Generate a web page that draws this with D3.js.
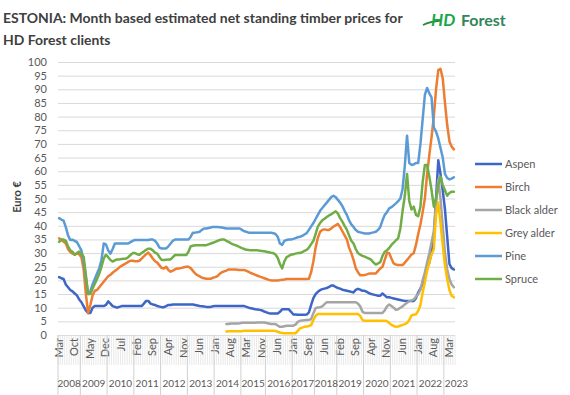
<!DOCTYPE html>
<html>
<head>
<meta charset="utf-8">
<script src="https://cdn.jsdelivr.net/npm/d3@7"></script>
<style>
  body { margin: 0; background: #fff; }
  text { font-family: Lato, "Open Sans", sans-serif; }
</style>
</head>
<body>
<script>

// ---- data ----
var monthNames = ["Jan","Feb","Mar","Apr","May","Jun","Jul","Aug","Sep","Oct","Nov","Dec"];
// months that are not in the source table
var skipped = ["2015-8","2017-4","2017-12","2018-2","2018-10"];

var categories = [];
for (var yr = 2008; yr <= 2023; yr++) {
	for (var mo = 1; mo <= 12; mo++) {
		if (yr === 2008 && mo < 3) continue;
		if (yr === 2023 && mo > 5) continue;
		if (skipped.indexOf(yr + "-" + mo) >= 0) continue;
		categories.push({ year: yr, month: mo });
	}
}

var seriesNames = ["Aspen", "Birch", "Black alder", "Grey alder", "Pine", "Spruce"];
var seriesColors = ["#3d66c6", "#ed7d31", "#a5a5a5", "#ffc000", "#5b9bd5", "#70ad47"];

var aspen = [
	21.2, 20.8, 20.5, 18.5, 17.5, 16.5, 16, 15.2, 14.5, 13,                 // 2008
	12, 10.5, 9, 8.1, 8.1, 10, 10.6, 10.6, 10.6, 10.6, 10.6, 11,            // 2009
	12.3, 11.5, 10.6, 10.3, 10, 10.3, 10.6, 10.6, 10.6, 10.6, 10.6, 10.6,   // 2010
	10.6, 10.6, 10.6, 10.6, 11.5, 12.5, 12.5, 11.5, 11.2, 11, 10.6, 10.4,   // 2011
	10.2, 10.2, 10.6, 11, 11, 11.2, 11.2, 11.2, 11.2, 11.2, 11.2, 11.2,     // 2012
	11.2, 11.2, 11.2, 11, 10.8, 10.6, 10.5, 10.4, 10.3, 10.3, 10.3, 10.5,   // 2013
	10.6, 10.6, 10.6, 10.6, 10.6, 10.6, 10.6, 10.6, 10.6, 10.6, 10.6, 10.6, // 2014
	10.6, 10.6, 10.3, 10, 9.8, 9.6, 9.4, 9.3, 9.2, 9, 8.6,                  // 2015
	8.3, 8, 7.9, 7.9, 7.9, 7.9, 8.5, 9.4, 9.4, 9.4, 9.4, 8.5,               // 2016
	7.5, 7.5, 7.4, 7.4, 7.4, 7.4, 7.5, 8.3, 11, 13.5,                       // 2017
	15, 15.8, 16.4, 16.8, 17, 17.2, 17.6, 18.1, 18.1, 17.6,                 // 2018
	17.2, 17, 16.6, 16.4, 16.2, 16, 15.8, 15.6, 16.5, 16.9, 16.6, 16.2,     // 2019
	16.2, 15.8, 15.3, 15, 14.8, 14.6, 14.4, 14.4, 15.2, 14.5, 13.8, 13.8,   // 2020
	13.6, 13.4, 13.2, 13, 12.8, 12.6, 12.5, 12.5, 12.5, 12.5, 12.5, 13.5,   // 2021
	15.6, 17, 18.8, 22, 25, 26.5, 30.5, 35.5, 50, 64, 59, 53,               // 2022
	46, 36, 26, 24.5, 24                                                    // 2023
];

var birch = [
	35.4, 34.8, 34.2, 33.5, 31.5, 30.4, 29.8, 29.4, 29.8, 29.6,
	28.5, 24, 15, 8, 11, 14.5, 16.2, 16.5, 17.5, 18.5, 19.5, 20.5,
	21.5, 22, 22.8, 23.5, 24, 24.8, 25.3, 25.8, 26.3, 26.8, 27.2, 27.2,
	27, 27, 27.2, 28, 28.8, 29.6, 30.2, 29.2, 28, 27, 26.5, 25.5,
	24.5, 24.4, 25, 23.8, 23.2, 23.6, 24, 24.4, 24.4, 24.6, 24.8, 25,
	25, 24.5, 23.5, 22.5, 21.9, 21.5, 21, 20.8, 20.6, 20.6, 20.6, 21,
	21.2, 21.6, 22.4, 23, 23.3, 23.6, 24, 24, 24, 24, 23.9, 23.8,
	23.8, 23.8, 23.5, 23.1, 22.7, 22.4, 22, 21.7, 21.4, 21.1, 20.8,
	20.5, 20.2, 20, 20, 20, 20, 20.1, 20.2, 20.3, 20.5, 20.5, 20.5,
	20.5, 20.5, 20.5, 20.5, 20.5, 20.5, 20.5, 20.6, 23, 27,
	32, 35.5, 37.8, 38.5, 38.7, 38.5, 38.5, 39, 39.7, 40.2,
	40.7, 39.5, 38, 36.5, 35, 32, 30, 27.5, 24.5, 23, 21.9, 21.9,
	22, 22.2, 22.5, 22.5, 22.5, 22.5, 23.5, 24.4, 25, 27.5, 30, 30,
	28, 26.2, 25.8, 25.6, 25.6, 25.6, 26.5, 27.5, 28.5, 29.5, 30, 33,
	37, 40.5, 45, 50, 59, 66, 72.6, 80, 90, 97, 97.5, 94,
	85, 77, 71, 69, 68
];

var blackAlder = [
	null, null, null, null, null, null, null, null, null, null,
	null, null, null, null, null, null, null, null, null, null, null, null,
	null, null, null, null, null, null, null, null, null, null, null, null,
	null, null, null, null, null, null, null, null, null, null, null, null,
	null, null, null, null, null, null, null, null, null, null, null, null,
	null, null, null, null, null, null, null, null, null, null, null, null,
	null, null, null, null, null, 4, 4, 4.2, 4.2, 4.2, 4.2, 4.3,
	4.5, 4.5, 4.5, 4.5, 4.5, 4.5, 4.5, 4.6, 4.6, 4.6, 4.6,
	4.4, 4.2, 4, 4, 4, 3.5, 3, 3, 3.2, 3.4, 3.4, 3.4,
	3.4, 3.8, 4.8, 5.2, 5.3, 5.4, 5.5, 5.6, 5.8, 8,
	9.8, 10.1, 10.2, 10.5, 11.3, 12, 12, 12, 12, 12,
	12, 12, 12, 12, 12, 12, 12, 12, 12, 11.5, 10.5, 8.5,
	8.1, 8.1, 8.1, 8.1, 8.1, 8.1, 8.1, 8.1, 8.1, 9, 10.5, 11.2,
	10.6, 10, 9.2, 9.4, 10, 10.5, 11.2, 11.8, 12.4, 12.7, 13, 14,
	15, 16.5, 20, 23, 26.5, 30, 34, 38, 48, 57, 50, 40,
	30, 24, 20.5, 18.5, 17.5
];

var greyAlder = [
	null, null, null, null, null, null, null, null, null, null,
	null, null, null, null, null, null, null, null, null, null, null, null,
	null, null, null, null, null, null, null, null, null, null, null, null,
	null, null, null, null, null, null, null, null, null, null, null, null,
	null, null, null, null, null, null, null, null, null, null, null, null,
	null, null, null, null, null, null, null, null, null, null, null, null,
	null, null, null, null, null, 1.3, 1.4, 1.4, 1.4, 1.4, 1.4, 1.4,
	1.4, 1.6, 1.6, 1.6, 1.6, 1.6, 1.6, 1.6, 1.6, 1.6, 1.6,
	1.6, 1.6, 1.6, 1.6, 1.5, 1.2, 0.9, 0.7, 0.6, 0.6, 0.6, 0.6,
	0.6, 0.6, 1.5, 2.4, 2.7, 3, 3.1, 3.3, 3.6, 5.5,
	7, 7.7, 7.7, 7.7, 7.7, 7.7, 7.7, 7.7, 7.7, 7.7,
	7.7, 7.7, 7.7, 7.7, 7.7, 7.7, 7.7, 7.7, 7.7, 7.7, 7, 5.5,
	5.2, 5.2, 5.2, 5.2, 5.2, 5.2, 5.2, 5.2, 5.2, 5.2, 5.1, 4.4,
	3.7, 3.3, 3, 3.1, 3.4, 3.7, 4, 4.4, 5.5, 7.2, 7.4, 7.6,
	8.8, 11, 15.5, 19.5, 23.5, 26.5, 29.5, 31.5, 44, 48.5, 41, 33,
	25.5, 20.5, 16.5, 14.4, 13.8
];

var pine = [
	42.8, 42.3, 41.9, 39.5, 36.5, 34.8, 34.9, 34.5, 34, 32.5,
	31, 27, 21, 15, 16, 18.5, 20.5, 22.5, 24.5, 27.5, 33.5, 33.2,
	31, 29.8, 31.5, 33.5, 33.5, 33.5, 33.5, 33.5, 33.5, 33.5, 34, 34.5,
	34.8, 34.8, 34.8, 34.8, 34.8, 34.8, 34.8, 35, 35, 34.5, 33.5, 32,
	31.7, 31.7, 31.7, 32.5, 33.5, 34.5, 35, 35, 35, 35, 35, 35,
	35, 36, 37.5, 37.5, 37.6, 37.8, 38.5, 39, 39, 39.2, 39.4, 39.6,
	39.6, 39.6, 39.5, 39.4, 39.2, 39, 39, 39, 39, 39, 39, 39,
	38.5, 38, 37.8, 37.5, 37.5, 37.5, 37.5, 37.5, 37.5, 37.5, 37.5,
	37.5, 37.5, 37.5, 37.3, 37, 36, 33.5, 33, 34.5, 34.8, 35, 35,
	35.2, 35.5, 35.8, 36, 36.3, 36.8, 37.3, 38.5, 39.8, 41,
	42.5, 44, 45.5, 46.5, 47.5, 48.5, 49.5, 50.5, 51, 50.5,
	49.5, 48.5, 47.2, 45.5, 44, 42, 40.5, 39.6, 38.5, 37.8, 37.6, 37.4,
	37.2, 37.2, 37.2, 37.4, 37.6, 37.8, 38.5, 39.6, 42, 44, 45, 46.4,
	46.8, 47.5, 48.2, 49, 50, 53.5, 62, 73, 63, 62.3, 62.5, 63,
	63, 70, 79, 88, 90.5, 88.5, 87, 76, 74.5, 72, 68.5, 65,
	59, 57.5, 57, 57.3, 57.8
];

var spruce = [
	34.1, 35, 35, 34.5, 32.5, 31, 30.5, 29.4, 30, 30.6,
	29.5, 28.7, 22, 15, 15, 17, 18.8, 20.5, 22.5, 25, 28, 29.4,
	28.5, 27.5, 26.9, 27.3, 27.7, 27.7, 27.8, 27.9, 28, 28.5, 29.3, 30,
	30, 29.6, 29.4, 30, 30.6, 31.2, 31.6, 31.6, 31, 30.2, 29.8, 28.5,
	27.5, 27.5, 27.6, 27.7, 27.7, 28.5, 29.3, 29.3, 29.3, 29.3, 29.3, 29.3,
	30.5, 32.5, 32.7, 32.9, 32.9, 32.9, 32.9, 32.9, 32.9, 33.2, 33.5, 33.8,
	34.1, 34.5, 34.8, 35, 35, 34.5, 34.1, 33.6, 33.2, 32.9, 32.6, 32.2,
	31.8, 31.5, 31.2, 31.1, 31, 31, 31, 31, 30.9, 30.8, 30.7,
	30.5, 30.3, 30.1, 30, 29.5, 28.3, 26, 24.4, 27, 28.5, 29, 29.4,
	29.6, 29.8, 30, 30, 30.4, 30.8, 31.2, 32, 33.3, 34.5,
	37, 39.7, 41, 42, 42.6, 43.2, 43.8, 44.2, 44.8, 45.3,
	44.5, 42.8, 41.5, 40, 38.6, 36.5, 34.5, 33.5, 31.5, 30, 29.4, 29,
	28.7, 28.3, 28, 27.5, 26.5, 25.8, 26.2, 26.7, 29, 30.5, 31, 31.9,
	33, 33.8, 34.7, 35.4, 39, 45.5, 51, 59, 49, 46, 47, 44,
	43.5, 47, 56, 62.3, 62.3, 58, 53, 47, 50, 55, 58, 55,
	53, 51, 52, 52.5, 52.5
];

var seriesValues = [aspen, birch, blackAlder, greyAlder, pine, spruce];
var yTicks = d3.range(0, 101, 5);

// ---- layout ----
var width = 570, height = 395,
	plotLeft = 58, plotRight = 455, plotTop = 62, plotBottom = 335;

var svg = d3.select("body").append("svg")
	.attr("width", width)
	.attr("height", height);

var x = d3.scaleBand()
	.domain(d3.range(categories.length))
	.range([plotLeft, plotRight]);
function xc(i) { return x(i) + x.bandwidth() / 2; }

var y = d3.scaleLinear()
	.domain([0, 100])
	.range([plotBottom, plotTop]);

// 1. Title and logo
var title = svg.append("g").attr("fill", "#404040").attr("font-weight", "bold");
var t1 = title.append("text").attr("x", 3).attr("y", 23).attr("font-size", 15)
	.text("ESTONIA: Month based estimated net standing timber prices for");
var fit = 15 * 400 / t1.node().getComputedTextLength();
t1.attr("font-size", fit);
title.append("text").attr("x", 3).attr("y", 45).attr("font-size", fit)
	.text("HD Forest clients");

var logo = svg.append("g");
logo.append("path")
	.attr("d", "M423,25 Q430,21.5 441,20.5")
	.attr("fill", "none")
	.attr("stroke", "#1f8a3e")
	.attr("stroke-width", 1.8);
logo.append("text").attr("x", 431).attr("y", 26)
	.attr("font-size", 17).attr("font-weight", "bold").attr("font-style", "italic")
	.attr("fill", "#1ea64a").text("HD");
logo.append("text").attr("x", 461).attr("y", 26)
	.attr("font-size", 16).attr("font-weight", "bold")
	.attr("fill", "#33855a").text("Forest");

// 2. Grid and y axis
svg.append("g")
	.attr("transform", "translate(" + plotLeft + ",0)")
	.call(d3.axisLeft(y).tickValues(yTicks).tickSize(-(plotRight - plotLeft)).tickFormat(""))
	.call(function(g) {
		g.select(".domain").remove();
		g.selectAll("line").attr("stroke", "#d9d9d9");
	});

svg.append("g")
	.attr("transform", "translate(" + plotLeft + ",0)")
	.call(d3.axisLeft(y).tickValues(yTicks).tickSize(0).tickPadding(11))
	.call(function(g) {
		g.select(".domain").remove();
		g.selectAll("text").attr("fill", "#595959").attr("font-size", 11)
			.attr("font-family", "Lato, sans-serif");
	});

svg.append("text")
	.attr("transform", "translate(21,197) rotate(-90)")
	.attr("text-anchor", "middle")
	.attr("font-size", 11)
	.attr("font-weight", "bold")
	.attr("fill", "#404040")
	.text("Euro €");

// 3. Category axis: month row and year row
var xAxis = svg.append("g");
xAxis.selectAll("line.cat")
	.data(d3.range(categories.length + 1))
	.enter().append("line")
	.attr("x1", function(i) { return plotLeft + i * x.bandwidth(); })
	.attr("x2", function(i) { return plotLeft + i * x.bandwidth(); })
	.attr("y1", plotBottom)
	.attr("y2", 365)
	.attr("stroke", "#e3e3e3")
	.attr("stroke-width", 0.8);

xAxis.selectAll("text.month")
	.data(categories.filter(function(d, i) { return i % 7 === 0; }))
	.enter().append("text")
	.attr("transform", function(d) {
		var i = categories.indexOf(d);
		return "translate(" + (xc(i) + 3.5) + ",338) rotate(-90)";
	})
	.attr("text-anchor", "end")
	.attr("font-size", 11)
	.attr("fill", "#595959")
	.text(function(d) { return monthNames[d.month - 1]; });

var years = d3.groups(categories.map(function(d, i) { return { year: d.year, i: i }; }),
	function(d) { return d.year; });

xAxis.selectAll("line.year")
	.data(years)
	.enter().append("line")
	.attr("x1", function(g) { return x(g[1][0].i); })
	.attr("x2", function(g) { return x(g[1][0].i); })
	.attr("y1", plotBottom)
	.attr("y2", height)
	.attr("stroke", "#d0d0d0");

// nudge the two short neighbouring years (2017, 2018) apart a little
var yearNudge = { 2017: -0.8, 2018: 0.8 };
xAxis.selectAll("text.year")
	.data(years)
	.enter().append("text")
	.attr("x", function(g) {
		var a = g[1][0].i, b = g[1][g[1].length - 1].i;
		if (g[1].length < 8) return x(a) + 1;
		return (x(a) + x(b) + x.bandwidth()) / 2 + (yearNudge[g[0]] || 0);
	})
	.attr("y", 387)
	.attr("text-anchor", function(g) { return g[1].length < 8 ? "start" : "middle"; })
	.attr("font-size", 10)
	.attr("fill", "#595959")
	.text(function(g) { return g[0]; });

// 4. Lines
var line = d3.line()
	.defined(function(d) { return d != null; })
	.x(function(d, i) { return xc(i); })
	.y(function(d) { return y(d); });

svg.append("g")
	.selectAll("path")
	.data(seriesValues)
	.enter().append("path")
	.attr("d", line)
	.attr("fill", "none")
	.attr("stroke", function(d, i) { return seriesColors[i]; })
	.attr("stroke-width", 2.5)
	.attr("stroke-linejoin", "round")
	.attr("stroke-linecap", "round");

// 5. Legend
var legend = svg.append("g")
	.selectAll("g")
	.data(seriesNames)
	.enter().append("g")
	.attr("transform", function(d, i) { return "translate(475," + (164 + i * 23) + ")"; });

legend.append("line")
	.attr("x1", 0).attr("x2", 27)
	.attr("stroke", function(d, i) { return seriesColors[i]; })
	.attr("stroke-width", 2.5);

legend.append("text")
	.attr("x", 30).attr("y", 4)
	.attr("font-size", 11)
	.attr("fill", "#595959")
	.text(function(d) { return d; });

</script>
</body>
</html>
